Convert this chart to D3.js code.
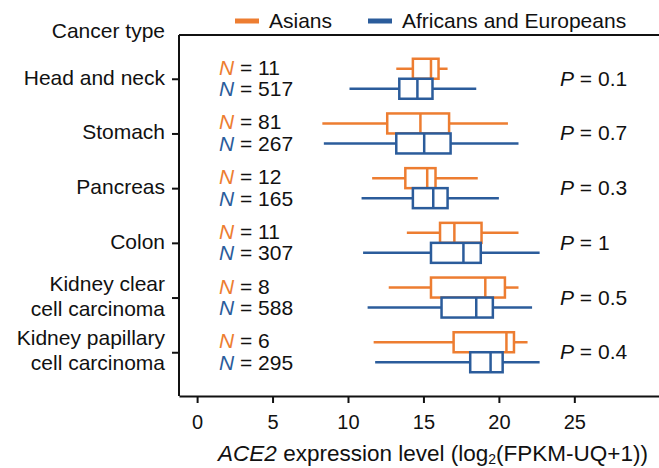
<!DOCTYPE html>
<html>
<head>
<meta charset="utf-8">
<script src="https://cdn.jsdelivr.net/npm/d3@7"></script>
<style>
  body { margin: 0; background: #fff; }
  text { font-family: "Liberation Sans", Arial, sans-serif; fill: #111; }
</style>
</head>
<body>
<div id="chart"></div>
<script>
// categories, top to bottom
var categories = ["Head and neck", "Stomach", "Pancreas", "Colon",
                  "Kidney clear\ncell carcinoma", "Kidney papillary\ncell carcinoma"];
var asianN = [11, 81, 12, 11, 8, 6];
var otherN = [517, 267, 165, 307, 588, 295];
var pValues = ["0.1", "0.7", "0.3", "1", "0.5", "0.4"];

// [min, q1, median, q3, max]
var asianBox = [
  [13.2, 14.3, 15.5, 16.0, 16.6],
  [8.3, 12.6, 14.8, 16.7, 20.6],
  [11.6, 13.8, 15.25, 15.8, 18.6],
  [13.9, 16.1, 17.05, 18.85, 21.3],
  [12.7, 15.5, 19.1, 20.4, 21.3],
  [11.7, 17.0, 20.5, 21.0, 21.9]
];
var otherBox = [
  [10.1, 13.4, 14.6, 15.6, 18.5],
  [8.4, 13.2, 15.05, 16.8, 21.3],
  [10.9, 14.3, 15.65, 16.6, 20.0],
  [11.0, 15.5, 17.65, 18.8, 22.7],
  [11.3, 16.2, 18.5, 19.6, 22.2],
  [11.8, 18.1, 19.45, 20.25, 22.7]
];
var xTicks = [0, 5, 10, 15, 20, 25];

var groups = ["Asians", "Africans and Europeans"];
var colors = ["#ED7D31", "#2B5C9B"];

var width = 659, height = 468;
var plotLeft = 179, plotTop = 35, plotBottom = 396;

var svg = d3.select("#chart").append("svg")
    .attr("width", width)
    .attr("height", height);

var x = d3.scaleLinear().domain([-1.2, 32.6]).range([plotLeft, 689]);
var y = d3.scalePoint().domain(categories).range([plotTop, plotBottom]).padding(0.8);

// frame (right side runs off the picture)
svg.append("line").attr("x1", plotLeft).attr("x2", width + 5).attr("y1", plotTop).attr("y2", plotTop)
    .attr("stroke", "#111").attr("stroke-width", 2);

// x axis
var xAxis = svg.append("g")
    .attr("transform", "translate(0," + plotBottom + ")")
    .call(d3.axisBottom(x).tickValues(xTicks).tickSize(7).tickSizeOuter(0).tickPadding(12));
xAxis.select(".domain").attr("stroke", "#111").attr("stroke-width", 2);
xAxis.selectAll(".tick line").attr("stroke", "#111").attr("stroke-width", 2);
xAxis.selectAll(".tick text").attr("font-size", 20).style("font-family", "Liberation Sans, Arial, sans-serif").attr("fill", "#111");

// y axis
var yAxis = svg.append("g")
    .attr("transform", "translate(" + plotLeft + ",0)")
    .call(d3.axisLeft(y).tickSize(7).tickSizeOuter(0).tickFormat(""));
yAxis.select(".domain").attr("stroke", "#111").attr("stroke-width", 2)
    .attr("d", "M0," + plotTop + "V" + plotBottom);
yAxis.selectAll(".tick line").attr("stroke", "#111").attr("stroke-width", 2);

// category labels
categories.forEach(function (c) {
  var lines = c.split("\n");
  var t = svg.append("text")
      .attr("x", 165)
      .attr("text-anchor", "end")
      .attr("font-size", 21);
  if (lines.length === 1) {
    t.attr("y", y(c) + 6).text(c);
  } else {
    t.attr("y", y(c) - 7);
    lines.forEach(function (l, i) {
      t.append("tspan").attr("x", 165).attr("dy", i === 0 ? 0 : 25).text(l);
    });
  }
});

svg.append("text").attr("x", 165).attr("y", 38).attr("text-anchor", "end")
    .attr("font-size", 21).text("Cancer type");

// N labels
function nLabel(n, color, yy) {
  var t = svg.append("text").attr("x", 219).attr("y", yy).attr("font-size", 21);
  t.append("tspan").attr("font-style", "italic").attr("fill", color).text("N");
  t.append("tspan").text(" = " + n);
}
categories.forEach(function (c, i) {
  nLabel(asianN[i], colors[0], y(c) - 4);
  nLabel(otherN[i], colors[1], y(c) + 17.5);
  var p = svg.append("text").attr("x", 560).attr("y", y(c) + 7).attr("font-size", 21);
  p.append("tspan").attr("font-style", "italic").text("P");
  p.append("tspan").text(" = " + pValues[i]);
});

// boxes
var boxH = 20;
function drawBox(d, c, color, offset) {
  var cy = y(c) + offset;
  var g = svg.append("g").attr("stroke", color).attr("stroke-width", 2.5).attr("fill", "#fff");
  g.append("line").attr("x1", x(d[0])).attr("x2", x(d[1])).attr("y1", cy).attr("y2", cy);
  g.append("line").attr("x1", x(d[3])).attr("x2", x(d[4])).attr("y1", cy).attr("y2", cy);
  g.append("rect").attr("x", x(d[1])).attr("y", cy - boxH / 2)
      .attr("width", x(d[3]) - x(d[1])).attr("height", boxH);
  g.append("line").attr("x1", x(d[2])).attr("x2", x(d[2]))
      .attr("y1", cy - boxH / 2).attr("y2", cy + boxH / 2);
}
categories.forEach(function (c, i) {
  drawBox(asianBox[i], c, colors[0], -10);
});
categories.forEach(function (c, i) {
  drawBox(otherBox[i], c, colors[1], 10);
});

// legend
var legX = [235, 368];
groups.forEach(function (g, i) {
  svg.append("line").attr("x1", legX[i]).attr("x2", legX[i] + 24)
      .attr("y1", 21).attr("y2", 21)
      .attr("stroke", colors[i]).attr("stroke-width", 5);
  svg.append("text").attr("x", legX[i] + 34).attr("y", 28)
      .attr("font-size", 21).text(g);
});

// x axis title
var title = svg.append("text").attr("x", 433).attr("y", 461)
    .attr("text-anchor", "middle").attr("font-size", 22.5);
title.append("tspan").attr("font-style", "italic").text("ACE2");
title.append("tspan").text(" expression level (log");
title.append("tspan").attr("font-size", 14).attr("dy", 3).text("2");
title.append("tspan").attr("dy", -3).text("(FPKM-UQ+1))");
</script>
</body>
</html>
